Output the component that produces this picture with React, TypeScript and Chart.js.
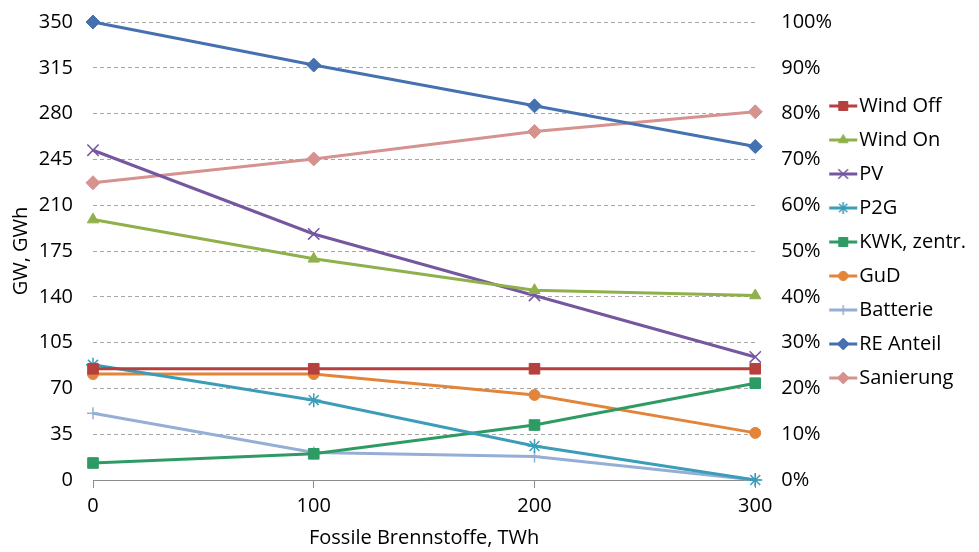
import React, { useEffect, useRef } from 'react';
import { Chart, registerables } from 'chart.js';
import { drawPoint } from 'chart.js/helpers';

Chart.register(...registerables);

// ---- data ----
const categories = ['0', '100', '200', '300'];
const windOff = [85, 85, 85, 85];
const windOn = [199, 169, 145, 141];
const pv = [252, 188, 141, 94];
const p2g = [88, 61, 26, 0];
const kwk = [13, 20, 42, 74];
const gud = [81, 81, 65, 36];
const batterie = [51, 21, 18, 0];
const reAnteil = [100, 90.6, 81.7, 72.8];
const sanierung = [64.9, 70.1, 76.1, 80.4];

const leftTickValues = [0, 35, 70, 105, 140, 175, 210, 245, 280, 315, 350];
const rightTickValues = [0, 10, 20, 30, 40, 50, 60, 70, 80, 90, 100];

const xTitle = 'Fossile Brennstoffe, TWh';
const yTitle = 'GW, GWh';

// ---- styles ----
const series = [
  { label: 'Wind Off', data: windOff, color: '#B5403D', style: 'rect', r: 7.5, bw: 1, axis: 'y' },
  { label: 'Wind On', data: windOn, color: '#8FB04B', style: 'triangle', r: 6.5, bw: 1, axis: 'y' },
  { label: 'PV', data: pv, color: '#74579F', style: 'crossRot', r: 8, bw: 1.5, axis: 'y' },
  { label: 'P2G', data: p2g, color: '#3C9DB8', style: 'star', r: 7, bw: 1.5, axis: 'y' },
  { label: 'KWK, zentr.', data: kwk, color: '#2E9B64', style: 'rect', r: 7.5, bw: 1, axis: 'y' },
  { label: 'GuD', data: gud, color: '#E2853A', style: 'circle', r: 5.5, bw: 1, axis: 'y' },
  { label: 'Batterie', data: batterie, color: '#95AED5', style: 'cross', r: 6, bw: 1.5, axis: 'y' },
  { label: 'RE Anteil', data: reAnteil, color: '#4571B0', style: 'rectRot', r: 7, bw: 1, axis: 'y1' },
  { label: 'Sanierung', data: sanierung, color: '#D6928F', style: 'rectRot', r: 7, bw: 1, axis: 'y1' },
];

// legend swatch: line segment with marker, in the left part of a wider image
function legendImage(s: any): HTMLCanvasElement {
  const c = document.createElement('canvas');
  c.width = 34;
  c.height = 16;
  const ctx = c.getContext('2d')!;
  ctx.strokeStyle = s.color;
  ctx.fillStyle = s.color;
  ctx.lineWidth = 3;
  ctx.beginPath();
  ctx.moveTo(0, 8);
  ctx.lineTo(28, 8);
  ctx.stroke();
  ctx.lineWidth = s.bw;
  drawPoint(ctx as any, { pointStyle: s.style, radius: s.r * 0.85, rotation: 0, borderWidth: s.bw } as any, 14, 8);
  return c;
}

export default function App() {
  const ref = useRef<HTMLCanvasElement | null>(null);

  useEffect(() => {
    document.body.style.margin = '0';
    const canvas = ref.current!;
    const images = series.map(legendImage);
    const font = "'Open Sans', 'Noto Sans', sans-serif";
    Chart.defaults.font.family = font;
    Chart.defaults.font.size = 20;
    Chart.defaults.color = '#000';

    const noPad = (scale: any) => { scale.paddingTop = 0; scale.paddingBottom = 0; };

    const chart = new Chart(canvas, {
      type: 'line',
      data: {
        labels: categories,
        datasets: series.map((s) => ({
          label: s.label,
          data: s.data,
          yAxisID: s.axis,
          borderColor: s.color,
          backgroundColor: s.color,
          borderWidth: 3,
          pointStyle: s.style as any,
          pointRadius: s.r,
          pointBorderWidth: s.bw,
          pointBackgroundColor: s.color,
          pointBorderColor: s.color,
          tension: 0,
          clip: false as any,
        })),
      },
      options: {
        responsive: false,
        animation: false,
        layout: { padding: { top: 22, left: 0, right: 3, bottom: 0 } },
        plugins: {
          tooltip: { enabled: false },
          legend: {
            position: 'right',
            align: 'start',
            fullSize: false,
            title: { display: true, text: ' ', font: { size: 10, lineHeight: 1 }, padding: { top: 0, bottom: 50 } },
            labels: {
              usePointStyle: true,
              pointStyleWidth: 6,
              padding: 14,
              font: { size: 20 },
              color: '#000',
              generateLabels: () =>
                series.map((s, i) => ({
                  text: s.label,
                  pointStyle: images[i] as any,
                  fillStyle: s.color,
                  strokeStyle: s.color,
                  lineWidth: 0,
                  hidden: false,
                  datasetIndex: i,
                  fontColor: '#000',
                })),
            },
          },
        },
        scales: {
          x: {
            type: 'category',
            offset: false,
            grid: { drawOnChartArea: false, drawTicks: true, tickLength: 8, color: '#8c8c8c' },
            border: { display: true, color: '#8c8c8c', width: 1 },
            ticks: { padding: 6, font: { size: 20 }, color: '#000', maxRotation: 0 },
            title: { display: true, text: xTitle, font: { size: 20 }, color: '#000', padding: { top: 0, bottom: 2 } },
            afterFit: (scale: any) => { scale.height = 72; },
          },
          y: {
            position: 'left',
            min: 0,
            max: 350,
            afterBuildTicks: (scale: any) => { scale.ticks = leftTickValues.map((v) => ({ value: v })); },
            grid: { drawTicks: false, color: '#a6a6a6', lineWidth: 1 },
            border: { display: false, dash: [4, 3] },
            ticks: { padding: 20, font: { size: 20 }, color: '#000' },
            title: { display: true, text: yTitle, font: { size: 20 }, color: '#000', padding: { top: 9, bottom: 0 } },
            afterFit: (scale: any) => { scale.width = 93; noPad(scale); },
          },
          y1: {
            position: 'right',
            min: 0,
            max: 100,
            afterBuildTicks: (scale: any) => { scale.ticks = rightTickValues.map((v) => ({ value: v })); },
            grid: { display: false, drawOnChartArea: false, drawTicks: false },
            border: { display: false },
            ticks: { padding: 26, font: { size: 20 }, color: '#000', callback: (v: any) => `${v}%` },
            afterFit: (scale: any) => {
              scale.width = 74;
              noPad(scale);
              scale._computeLabelArea = () => undefined;
            },
          },
        },
      },
    } as any);

    return () => chart.destroy();
  }, []);

  return <canvas ref={ref} width={979} height={552} style={{ display: 'block' }} />;
}
